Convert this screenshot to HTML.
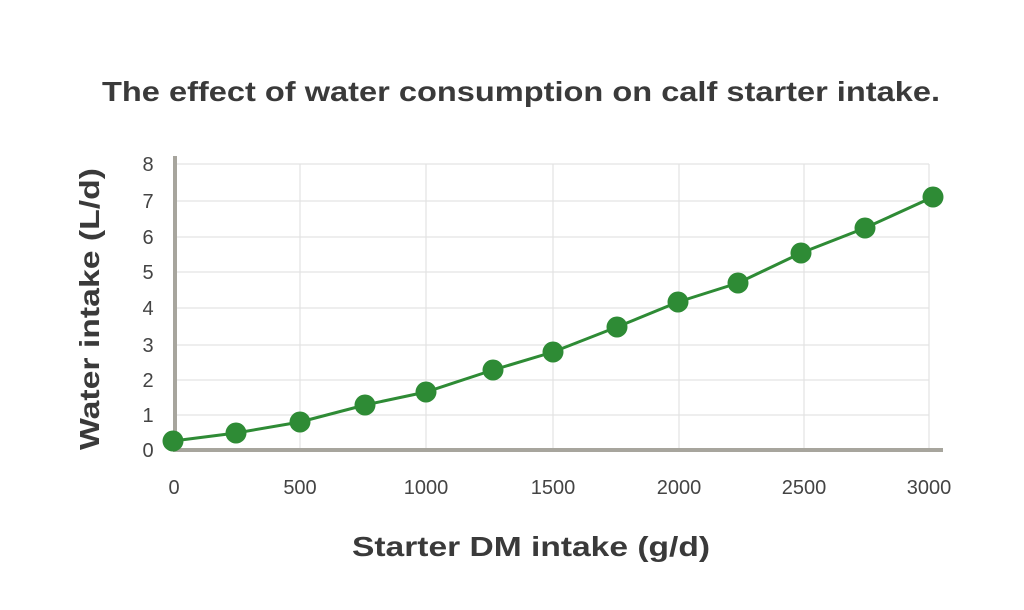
<!DOCTYPE html>
<html><head><style>body{margin:0;background:#fff}</style></head><body>
<svg width="1024" height="605" xmlns="http://www.w3.org/2000/svg" font-family="Liberation Sans, sans-serif">
<text x="102" y="101" textLength="838" lengthAdjust="spacingAndGlyphs" font-size="28" font-weight="bold" fill="#3a3a3a">The effect of water consumption on calf starter intake.</text>
<g stroke="#e3e3e3" stroke-width="1.2">
<line x1="175" y1="164" x2="929" y2="164"/><line x1="175" y1="201" x2="929" y2="201"/><line x1="175" y1="237" x2="929" y2="237"/><line x1="175" y1="272" x2="929" y2="272"/><line x1="175" y1="308" x2="929" y2="308"/><line x1="175" y1="345" x2="929" y2="345"/><line x1="175" y1="380" x2="929" y2="380"/><line x1="175" y1="415" x2="929" y2="415"/>
<line x1="300" y1="164" x2="300" y2="450"/><line x1="426" y1="164" x2="426" y2="450"/><line x1="553" y1="164" x2="553" y2="450"/><line x1="679" y1="164" x2="679" y2="450"/><line x1="804" y1="164" x2="804" y2="450"/><line x1="929" y1="164" x2="929" y2="450"/>
</g>
<line x1="175" y1="156" x2="175" y2="452" stroke="#a7a59d" stroke-width="4"/>
<line x1="173" y1="450" x2="943" y2="450" stroke="#a7a59d" stroke-width="4"/>
<g font-size="20" fill="#444" text-anchor="middle">
<text x="148" y="171">8</text><text x="148" y="208">7</text><text x="148" y="244">6</text><text x="148" y="279">5</text><text x="148" y="315">4</text><text x="148" y="352">3</text><text x="148" y="387">2</text><text x="148" y="422">1</text><text x="148" y="457">0</text>
<text x="174" y="494">0</text><text x="300" y="494">500</text><text x="426" y="494">1000</text><text x="553" y="494">1500</text><text x="679" y="494">2000</text><text x="804" y="494">2500</text><text x="929" y="494">3000</text>
</g>
<text x="352" y="556" textLength="358" lengthAdjust="spacingAndGlyphs" font-size="28" font-weight="bold" fill="#3a3a3a">Starter DM intake (g/d)</text>
<text transform="translate(99,450) rotate(-90)" textLength="282" lengthAdjust="spacingAndGlyphs" font-size="28" font-weight="bold" fill="#3a3a3a">Water intake (L/d)</text>
<polyline fill="none" stroke="#2e8b35" stroke-width="3" points="173,441 236,433 300,422 365,405 426,392 493,370 553,352 617,327 678,302 738,283 801,253 865,228 933,197"/>
<g fill="#2e8b35">
<circle cx="173" cy="441" r="10.5"/><circle cx="236" cy="433" r="10.5"/><circle cx="300" cy="422" r="10.5"/><circle cx="365" cy="405" r="10.5"/><circle cx="426" cy="392" r="10.5"/><circle cx="493" cy="370" r="10.5"/><circle cx="553" cy="352" r="10.5"/><circle cx="617" cy="327" r="10.5"/><circle cx="678" cy="302" r="10.5"/><circle cx="738" cy="283" r="10.5"/><circle cx="801" cy="253" r="10.5"/><circle cx="865" cy="228" r="10.5"/><circle cx="933" cy="197" r="10.5"/>
</g>
</svg>
</body></html>
